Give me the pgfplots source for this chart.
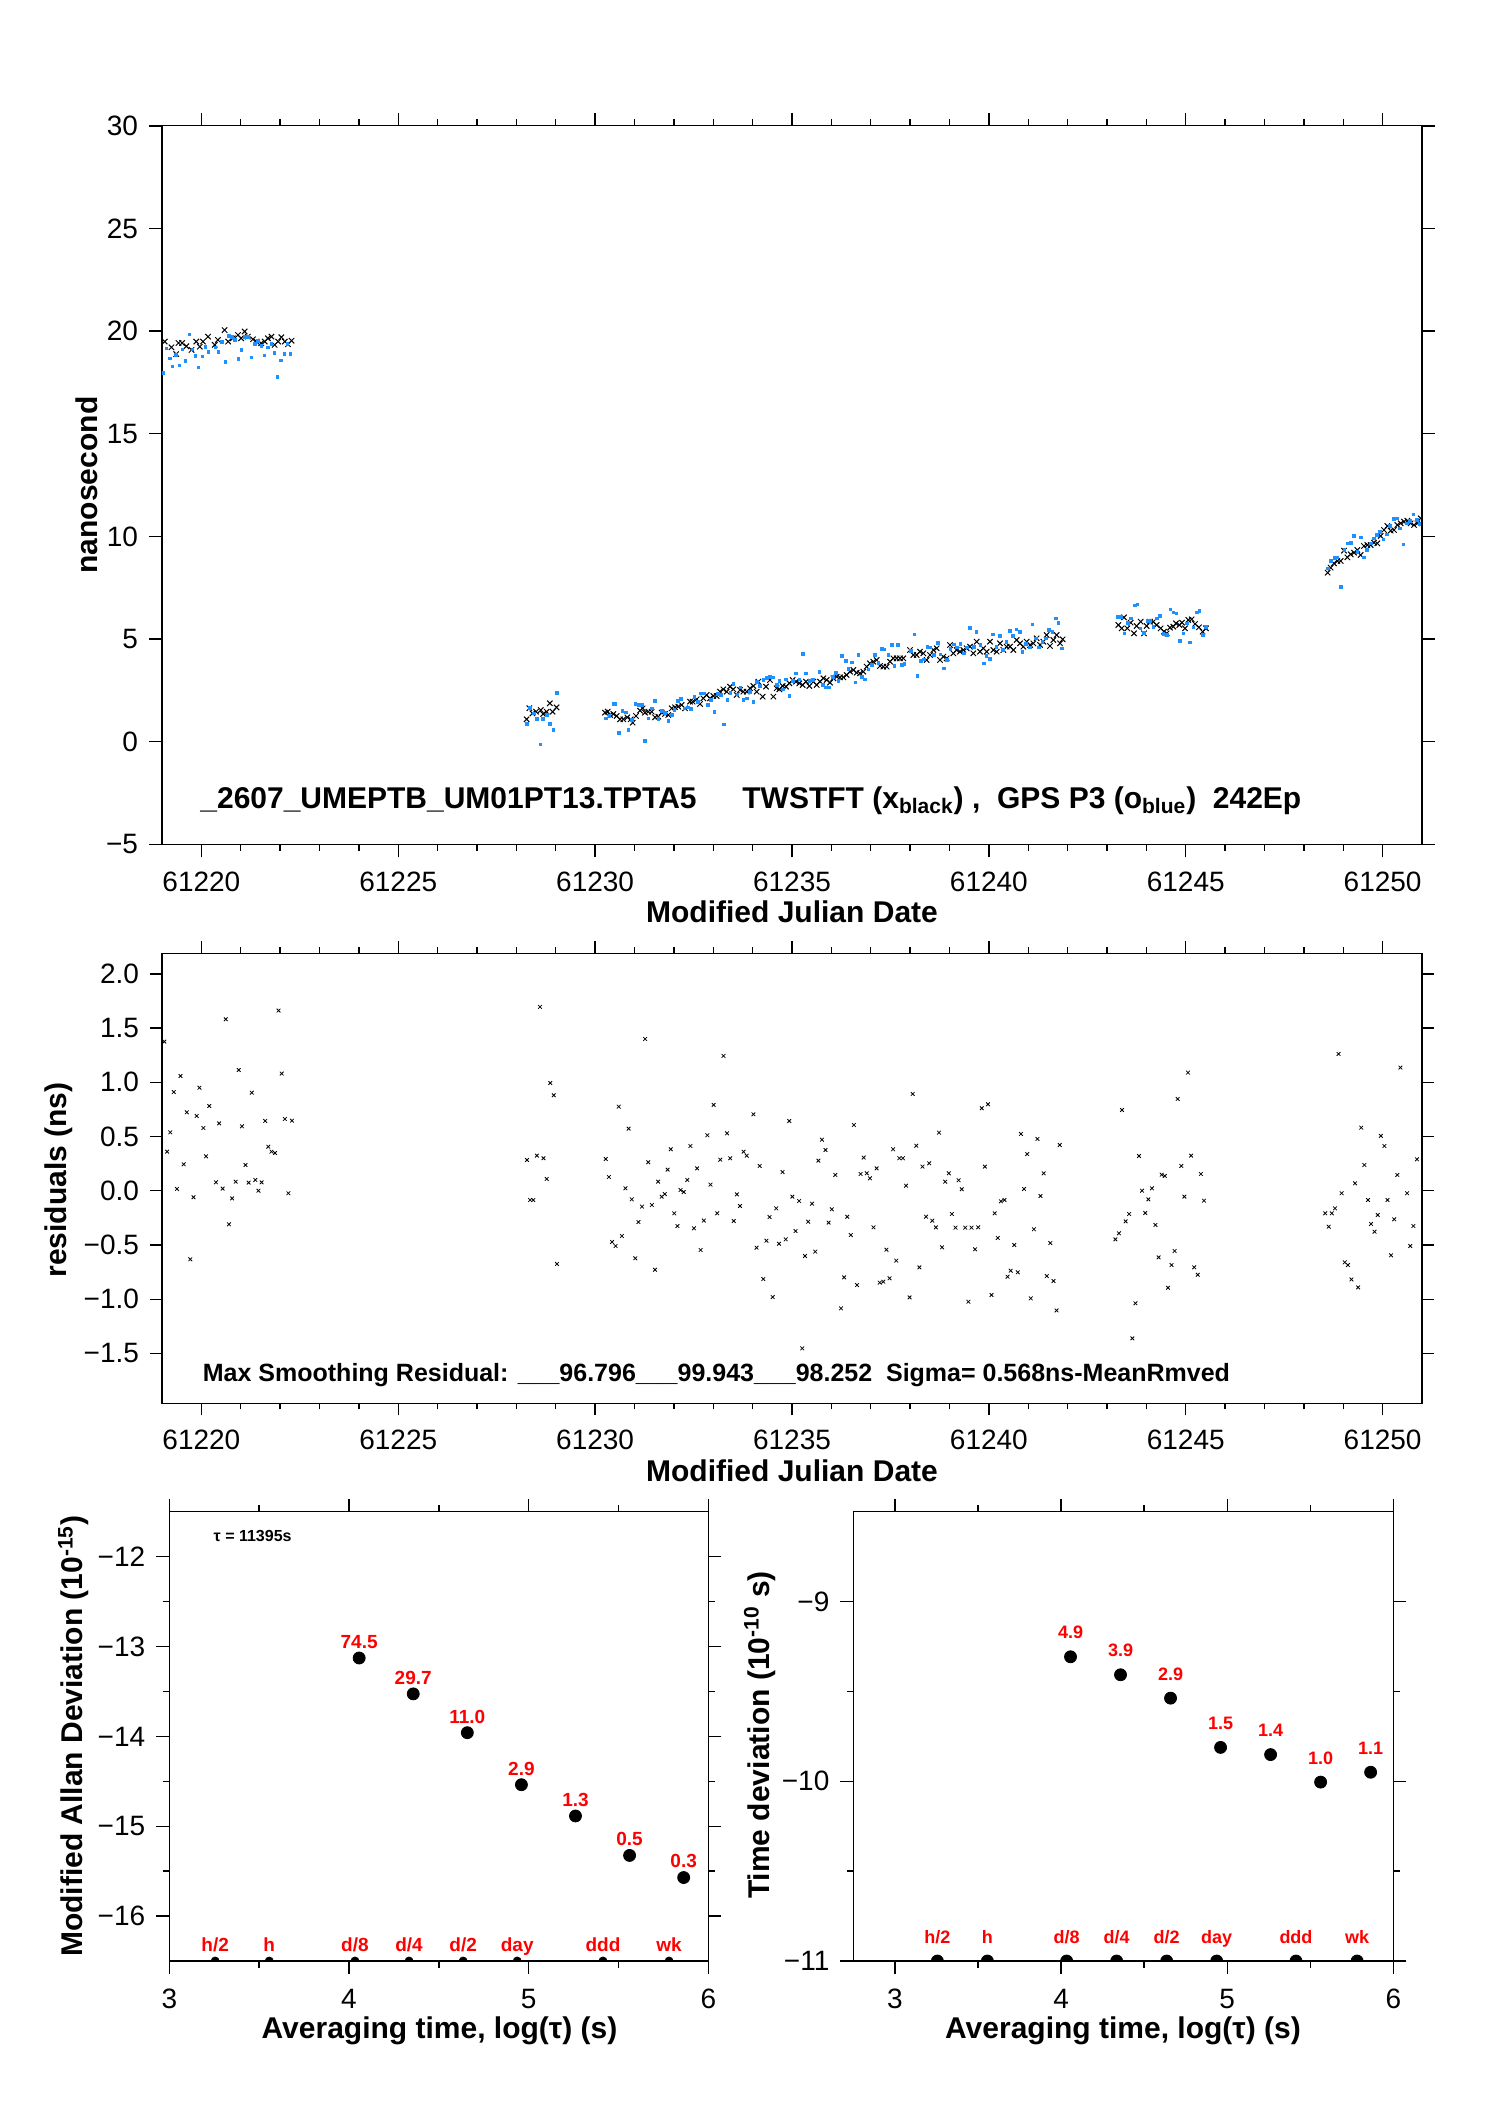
\documentclass[border=0pt]{standalone}
\usepackage{fontspec}
\setmainfont{Liberation Sans}
\usepackage{pgfplots}
\pgfplotsset{compat=1.18}
\definecolor{gpsblue}{RGB}{30,144,255}
\definecolor{lblred}{RGB}{255,0,0}
\pgfplotsset{
  myaxis/.style={
    scale only axis, anchor=north west,
    axis line style={line width=0.6pt},
    tick align=outside,
    every tick/.style={line width=0.7pt, black},
    major tick length=6.5pt, minor tick length=3.3pt,
    tick label style={font=\fontsize{14}{16}\selectfont},
    xticklabel style={yshift=-4pt},
    yticklabel style={xshift=-2pt},
    scaled x ticks=false, scaled y ticks=false,
    /pgf/number format/assume math mode=true,
    clip marker paths=true,
  }
}
\begin{document}
\begin{tikzpicture}
\useasboundingbox (0pt,0pt) rectangle (744pt,-1052.5pt);

% ---------------- top panel ----------------
\begin{axis}[myaxis, at={(81pt,-62.9pt)}, width=630pt, height=359.25pt,
  xmin=61219, xmax=61251, ymin=-5, ymax=30,
  xtick={61220,61225,61230,61235,61240,61245,61250},
  xticklabels={61220,61225,61230,61235,61240,61245,61250},
  minor x tick num=4,
  ytick={-5,0,5,10,15,20,25,30},
  yticklabels={−5,0,5,10,15,20,25,30}]
\addplot[only marks, mark=x, mark size=1.9pt, mark options={line width=0.5pt}, black]
 table[row sep=\\]{x y\\
61219.07 19.49\\ 61219.24 19.21\\ 61219.36 18.88\\ 61219.42 19.42\\ 61219.51 19.42\\
61219.62 19.26\\ 61219.75 19.08\\ 61219.87 19.49\\ 61219.96 19.24\\ 61220.04 19.49\\
61220.17 19.73\\ 61220.34 19.33\\ 61220.42 19.57\\ 61220.59 20.05\\ 61220.68 19.49\\
61220.80 19.65\\ 61220.93 19.81\\ 61221.01 19.65\\ 61221.10 19.98\\ 61221.18 19.73\\
61221.31 19.60\\ 61221.40 19.49\\ 61221.52 19.41\\ 61221.61 19.49\\ 61221.69 19.65\\
61221.78 19.73\\ 61221.86 19.33\\ 61221.95 19.49\\ 61222.03 19.70\\ 61222.12 19.49\\
61222.20 19.36\\ 61222.29 19.53\\
61228.26 1.09\\ 61228.33 1.63\\ 61228.41 1.38\\ 61228.50 1.46\\ 61228.62 1.54\\
61228.68 1.35\\ 61228.77 1.46\\ 61228.85 1.87\\ 61228.92 1.46\\ 61229.02 1.67\\
61230.251 1.414\\ 61230.319 1.463\\ 61230.378 1.301\\ 61230.462 1.349\\ 61230.547 1.252\\
61230.632 1.090\\ 61230.716 1.090\\ 61230.818 1.187\\ 61230.903 1.090\\ 61230.953 0.927\\
61231.038 1.252\\ 61231.140 1.512\\ 61231.207 1.625\\ 61231.267 1.414\\ 61231.351 1.463\\
61231.436 1.463\\ 61231.521 1.187\\ 61231.605 1.219\\ 61231.690 1.414\\ 61231.775 1.349\\
61231.859 1.301\\ 61231.944 1.625\\ 61232.029 1.674\\ 61232.113 1.707\\ 61232.198 1.788\\
61232.283 1.625\\ 61232.410 1.950\\ 61232.477 1.950\\ 61232.579 2.064\\ 61232.664 1.836\\
61232.748 2.112\\ 61232.833 2.275\\ 61232.918 2.112\\ 61233.002 2.226\\ 61233.087 2.226\\
61233.172 2.437\\ 61233.256 2.551\\ 61233.341 2.437\\ 61233.426 2.681\\ 61233.510 2.551\\
61233.595 2.275\\ 61233.680 2.518\\ 61233.764 2.437\\ 61233.849 2.437\\ 61233.934 2.600\\
61234.018 2.713\\ 61234.103 2.437\\ 61234.145 2.924\\ 61234.255 2.194\\ 61234.340 2.681\\
61234.441 3.005\\ 61234.526 2.194\\ 61234.611 2.600\\ 61234.679 2.551\\ 61234.763 2.713\\
61234.848 2.681\\ 61234.933 2.843\\ 61235.017 3.005\\ 61235.102 2.924\\ 61235.187 2.843\\
61235.271 2.762\\ 61235.356 2.924\\ 61235.440 2.713\\ 61235.542 2.924\\ 61235.627 2.762\\
61235.711 2.924\\ 61235.796 3.087\\ 61235.881 3.005\\ 61235.965 2.876\\ 61236.050 3.087\\
61236.135 3.168\\ 61236.219 3.135\\
61236.304 3.135\\ 61236.388 3.249\\ 61236.473 3.411\\ 61236.558 3.492\\ 61236.642 3.362\\
61236.727 3.330\\ 61236.812 3.411\\ 61236.896 3.654\\ 61236.981 3.817\\ 61237.066 3.898\\
61237.150 3.979\\ 61237.235 3.687\\ 61237.320 3.654\\ 61237.404 3.654\\ 61237.489 3.898\\
61237.574 4.060\\ 61237.658 4.060\\ 61237.743 4.060\\ 61237.828 4.060\\ 61237.997 4.466\\
61238.081 4.223\\ 61238.166 4.223\\ 61238.251 4.385\\ 61238.335 4.304\\ 61238.420 3.979\\
61238.505 4.223\\ 61238.589 4.466\\ 61238.674 4.547\\ 61238.759 3.979\\ 61238.843 4.142\\
61238.928 4.060\\ 61239.013 4.710\\ 61239.097 4.304\\ 61239.182 4.466\\ 61239.267 4.385\\
61239.351 4.466\\ 61239.436 4.547\\ 61239.521 4.629\\ 61239.605 4.304\\ 61239.690 4.872\\
61239.775 4.385\\ 61239.859 4.547\\ 61239.944 4.385\\ 61240.029 4.872\\ 61240.113 4.466\\
61240.198 4.385\\ 61240.283 4.791\\ 61240.367 4.466\\ 61240.452 4.629\\ 61240.537 4.629\\
61240.621 4.466\\ 61240.706 4.953\\ 61240.791 4.791\\ 61240.875 4.629\\ 61240.960 4.872\\
61241.045 4.710\\ 61241.129 4.791\\ 61241.214 5.035\\ 61241.299 4.710\\ 61241.383 4.872\\
61241.468 5.197\\ 61241.553 4.661\\ 61241.637 4.953\\ 61241.722 5.197\\ 61241.807 4.791\\
61241.874 4.986\\
61243.288 5.684\\ 61243.372 5.522\\ 61243.432 6.058\\ 61243.516 5.522\\ 61243.601 5.798\\
61243.686 5.278\\ 61243.753 5.635\\ 61243.855 5.847\\ 61243.940 5.278\\ 61244.007 5.635\\
61244.092 5.847\\ 61244.177 5.847\\ 61244.261 5.684\\ 61244.363 5.522\\ 61244.447 5.359\\
61244.515 5.278\\ 61244.600 5.554\\ 61244.684 5.603\\ 61244.752 5.765\\ 61244.837 5.684\\
61244.905 5.798\\ 61244.981 5.522\\ 61245.066 5.928\\ 61245.150 5.960\\ 61245.235 5.733\\
61245.336 5.571\\ 61245.430 5.359\\ 61245.514 5.522\\
61248.604 8.233\\ 61248.680 8.477\\ 61248.765 8.688\\ 61248.850 8.802\\ 61248.935 8.802\\
61249.019 9.305\\ 61249.104 8.980\\ 61249.188 9.126\\ 61249.273 9.208\\ 61249.358 9.337\\
61249.442 9.094\\ 61249.527 9.532\\ 61249.612 9.581\\ 61249.696 9.581\\ 61249.781 9.695\\
61249.866 9.662\\ 61249.950 10.019\\ 61250.035 10.312\\ 61250.120 10.507\\ 61250.204 10.279\\
61250.289 10.312\\ 61250.374 10.555\\ 61250.458 10.636\\ 61250.543 10.718\\ 61250.628 10.766\\
61250.712 10.636\\ 61250.797 10.555\\ 61250.882 10.636\\ 61250.966 10.880\\
};
\addplot[only marks, mark=square*, mark size=0.7pt, gpsblue]
 table[row sep=\\]{x y\\
61219.025 17.98\\ 61219.110 19.16\\ 61219.194 18.67\\ 61219.262 18.28\\ 61219.347 18.84\\
61219.440 18.33\\ 61219.516 19.11\\ 61219.592 18.54\\ 61219.694 19.84\\ 61219.770 19.11\\
61219.846 18.79\\ 61219.922 18.23\\ 61220.024 18.77\\ 61220.100 19.24\\ 61220.176 18.97\\
61220.354 19.21\\ 61220.430 18.98\\ 61220.515 19.49\\ 61220.608 18.48\\ 61220.693 19.76\\
61220.777 19.70\\ 61220.854 19.57\\ 61220.938 18.64\\ 61221.015 19.08\\ 61221.099 19.73\\
61221.192 19.70\\ 61221.268 18.72\\ 61221.353 19.36\\ 61221.438 19.52\\ 61221.522 19.27\\
61221.599 18.82\\ 61221.683 19.21\\ 61221.776 19.36\\ 61221.853 18.92\\ 61221.929 17.75\\
61222.022 18.57\\ 61222.107 18.87\\ 61222.183 19.36\\ 61222.259 18.87\\
61228.26 0.85\\ 61228.35 1.66\\ 61228.45 1.38\\ 61228.53 1.09\\ 61228.61 -0.13\\
61228.68 1.09\\ 61228.77 1.30\\ 61228.85 0.85\\ 61228.94 0.57\\ 61229.02 2.36\\
61230.268 1.138\\ 61230.361 1.252\\ 61230.462 1.836\\ 61230.505 1.836\\ 61230.606 0.408\\
61230.691 1.495\\ 61230.776 1.430\\ 61230.843 0.570\\ 61230.928 1.057\\ 61231.021 1.836\\
61231.097 1.788\\ 61231.182 1.788\\ 61231.267 0.050\\ 61231.351 1.138\\ 61231.436 1.625\\
61231.521 1.983\\ 61231.605 1.090\\ 61231.690 1.495\\ 61231.775 1.382\\ 61231.859 1.008\\
61231.944 1.301\\ 61232.012 1.544\\ 61232.096 1.999\\ 61232.181 2.064\\ 61232.266 1.625\\
61232.350 1.674\\ 61232.435 1.593\\ 61232.520 2.194\\ 61232.604 1.950\\ 61232.689 2.356\\
61232.774 2.356\\ 61232.858 1.788\\ 61232.943 2.031\\ 61233.028 1.463\\ 61233.112 2.323\\
61233.197 2.275\\ 61233.265 0.846\\ 61233.358 2.031\\ 61233.434 2.388\\ 61233.510 2.811\\
61233.612 2.307\\ 61233.688 2.648\\ 61233.764 2.031\\ 61233.849 2.112\\ 61233.934 2.437\\
61234.018 1.918\\ 61234.103 2.924\\ 61234.188 2.713\\ 61234.272 3.005\\ 61234.357 3.119\\
61234.441 3.168\\ 61234.526 3.135\\ 61234.611 2.762\\ 61234.679 2.973\\ 61234.763 2.551\\
61234.848 3.038\\ 61234.933 2.242\\ 61235.017 2.973\\ 61235.102 3.330\\ 61235.187 3.038\\
61235.271 4.272\\ 61235.356 3.330\\ 61235.440 2.973\\ 61235.525 3.005\\ 61235.694 3.411\\
61235.779 2.762\\ 61235.864 2.648\\ 61235.948 2.648\\ 61236.033 3.168\\ 61236.109 3.363\\
61236.177 2.957\\
61236.261 4.174\\ 61236.363 3.930\\ 61236.431 3.541\\ 61236.515 3.866\\ 61236.608 2.891\\
61236.685 4.223\\ 61236.769 3.167\\ 61236.854 3.038\\ 61236.939 3.524\\ 61237.023 3.736\\
61237.108 4.223\\ 61237.193 3.849\\ 61237.277 4.515\\ 61237.345 4.499\\ 61237.447 4.223\\
61237.531 4.710\\ 61237.599 3.687\\ 61237.684 4.710\\ 61237.785 3.736\\ 61237.853 3.784\\
61238.022 4.418\\ 61238.107 5.229\\ 61238.183 3.200\\ 61238.268 3.947\\ 61238.352 4.012\\
61238.437 4.629\\ 61238.513 4.596\\ 61238.598 4.223\\ 61238.700 4.824\\ 61238.767 4.255\\
61238.852 3.573\\ 61238.937 3.979\\ 61239.021 4.515\\ 61239.106 4.742\\ 61239.191 4.596\\
61239.275 4.759\\ 61239.360 4.304\\ 61239.445 4.596\\ 61239.512 5.554\\ 61239.614 4.629\\
61239.682 5.359\\ 61239.783 4.710\\ 61239.868 3.817\\ 61239.936 4.174\\ 61240.020 4.028\\
61240.105 5.229\\ 61240.190 4.629\\ 61240.274 5.165\\ 61240.359 4.466\\ 61240.444 4.872\\
61240.528 5.392\\ 61240.613 5.148\\ 61240.698 5.473\\ 61240.782 5.359\\ 61240.850 4.385\\
61240.935 4.759\\ 61241.036 4.596\\ 61241.104 5.717\\ 61241.188 5.035\\ 61241.273 4.596\\
61241.358 4.872\\ 61241.443 5.035\\ 61241.527 5.441\\ 61241.612 5.359\\ 61241.697 6.009\\
61241.764 5.798\\ 61241.849 4.548\\
61243.262 6.090\\ 61243.347 6.090\\ 61243.440 5.278\\ 61243.525 5.798\\ 61243.601 6.009\\
61243.703 6.642\\ 61243.770 6.691\\ 61243.846 5.522\\ 61243.931 5.311\\ 61244.024 5.895\\
61244.092 5.895\\ 61244.177 5.603\\ 61244.261 6.009\\ 61244.346 6.123\\ 61244.431 5.246\\
61244.515 5.197\\ 61244.608 6.447\\ 61244.685 6.301\\ 61244.761 6.252\\ 61244.854 4.921\\
61244.939 5.278\\ 61245.023 5.765\\ 61245.108 4.840\\ 61245.193 5.571\\ 61245.277 6.301\\
61245.345 6.366\\ 61245.430 5.197\\ 61245.514 5.603\\
61248.604 8.445\\ 61248.689 8.802\\ 61248.782 8.964\\ 61248.850 8.980\\ 61248.935 7.551\\
61249.028 9.337\\ 61249.104 9.662\\ 61249.188 9.695\\ 61249.273 10.019\\ 61249.358 9.256\\
61249.442 9.954\\ 61249.519 8.980\\ 61249.595 9.337\\ 61249.696 9.662\\ 61249.781 9.906\\
61249.849 10.068\\ 61249.933 10.231\\ 61250.018 9.857\\ 61250.103 10.101\\ 61250.188 10.523\\
61250.281 10.848\\ 61250.357 10.880\\ 61250.442 10.393\\ 61250.526 9.614\\ 61250.611 10.636\\
61250.695 10.766\\ 61250.780 11.075\\ 61250.865 10.799\\ 61250.933 10.604\\
};
\end{axis}
\node[anchor=base west, inner sep=0pt, font=\bfseries\fontsize{15}{18}\selectfont] at (100pt,-404pt) {\_2607\_UMEPTB\_UM01PT13.TPTA5};
\node[anchor=base west, inner sep=0pt, font=\bfseries\fontsize{15}{18}\selectfont] at (371pt,-404pt) {TWSTFT (x\textsubscript{black}) ,\ \ GPS P3 (o\textsubscript{blue})\ \ 242Ep};
\node[anchor=base, inner sep=0pt, font=\bfseries\fontsize{15}{18}\selectfont] at (396pt,-461.35pt) {Modified Julian Date};
\node[anchor=base, rotate=90, inner sep=0pt, font=\bfseries\fontsize{15}{18}\selectfont] at (48.5pt,-242.5pt) {nanosecond};

% ---------------- middle panel ----------------
\begin{axis}[myaxis, at={(81pt,-476.65pt)}, width=630pt, height=225pt,
  xmin=61219, xmax=61251, ymin=-1.96, ymax=2.19,
  xtick={61220,61225,61230,61235,61240,61245,61250},
  xticklabels={61220,61225,61230,61235,61240,61245,61250},
  minor x tick num=4,
  major tick length=6pt, minor tick length=3pt,
  ytick={-1.5,-1,-0.5,0,0.5,1,1.5,2},
  yticklabels={−1.5,−1.0,−0.5,0.0,0.5,1.0,1.5,2.0}]
\addplot[only marks, mark=x, mark size=1.3pt, mark options={line width=0.4pt}, black]
 table[row sep=\\]{x y\\
61219.06 1.376\\ 61219.13 0.361\\ 61219.21 0.539\\ 61219.30 0.911\\ 61219.38 0.017\\
61219.47 1.059\\ 61219.55 0.244\\ 61219.63 0.724\\ 61219.72 -0.632\\ 61219.80 -0.060\\
61219.88 0.690\\ 61219.95 0.951\\ 61220.05 0.579\\ 61220.12 0.318\\ 61220.20 0.782\\
61220.37 0.078\\ 61220.45 0.622\\ 61220.54 0.020\\ 61220.62 1.582\\ 61220.70 -0.309\\
61220.78 -0.070\\ 61220.87 0.084\\ 61220.95 1.114\\ 61221.03 0.595\\ 61221.12 0.238\\
61221.20 0.075\\ 61221.28 0.905\\ 61221.37 0.100\\ 61221.45 0.001\\ 61221.53 0.078\\
61221.62 0.644\\ 61221.70 0.407\\ 61221.78 0.361\\ 61221.87 0.349\\ 61221.96 1.662\\
61222.04 1.081\\ 61222.12 0.662\\ 61222.21 -0.023\\ 61222.30 0.647\\
61228.27 0.284\\ 61228.35 -0.085\\ 61228.43 -0.085\\ 61228.52 0.324\\ 61228.60 1.696\\
61228.69 0.300\\ 61228.77 0.109\\ 61228.86 0.994\\ 61228.95 0.881\\ 61229.03 -0.675\\
61230.27 0.293\\ 61230.35 0.127\\ 61230.43 -0.472\\ 61230.52 -0.509\\ 61230.60 0.776\\
61230.68 -0.417\\ 61230.77 0.023\\ 61230.85 0.573\\ 61230.93 -0.079\\ 61231.02 -0.623\\
61231.10 -0.288\\ 61231.19 -0.146\\ 61231.27 1.400\\ 61231.35 0.263\\ 61231.44 -0.131\\
61231.52 -0.728\\ 61231.60 0.084\\ 61231.69 -0.054\\ 61231.77 -0.030\\ 61231.84 0.195\\
61231.92 0.383\\ 61232.01 -0.208\\ 61232.09 -0.325\\ 61232.17 0.007\\ 61232.25 -0.011\\
61232.34 0.100\\ 61232.42 0.413\\ 61232.51 -0.346\\ 61232.59 0.207\\ 61232.68 -0.546\\
61232.76 -0.275\\ 61232.85 0.512\\ 61232.93 0.057\\ 61233.01 0.792\\ 61233.10 -0.208\\
61233.18 0.287\\ 61233.26 1.244\\ 61233.35 0.530\\ 61233.43 0.300\\ 61233.52 -0.279\\
61233.60 -0.033\\ 61233.68 -0.140\\ 61233.77 0.361\\ 61233.85 0.324\\ 61234.02 0.705\\
61234.10 -0.525\\ 61234.18 0.229\\ 61234.27 -0.814\\ 61234.35 -0.460\\ 61234.43 -0.242\\
61234.51 -0.980\\ 61234.60 -0.162\\ 61234.67 -0.488\\ 61234.76 0.173\\ 61234.84 -0.448\\
61234.93 0.644\\ 61235.01 -0.054\\ 61235.09 -0.371\\ 61235.18 -0.094\\ 61235.26 -1.453\\
61235.33 -0.601\\ 61235.41 -0.285\\ 61235.51 -0.119\\ 61235.59 -0.561\\ 61235.67 0.278\\
61235.76 0.471\\ 61235.85 0.376\\ 61235.93 -0.294\\ 61236.01 -0.171\\ 61236.10 0.146\\
61236.244 -1.084\\ 61236.324 -0.798\\ 61236.403 -0.239\\ 61236.493 -0.408\\ 61236.572 0.607\\
61236.652 -0.869\\ 61236.742 0.155\\ 61236.821 0.306\\ 61236.900 0.161\\ 61236.980 0.115\\
61237.070 -0.337\\ 61237.149 0.207\\ 61237.229 -0.847\\ 61237.319 -0.838\\ 61237.398 -0.543\\
61237.477 -0.807\\ 61237.568 0.383\\ 61237.647 -0.644\\ 61237.726 0.300\\ 61237.817 0.300\\
61237.896 0.047\\ 61237.986 -0.983\\ 61238.066 0.893\\ 61238.156 0.416\\ 61238.235 -0.706\\
61238.314 0.223\\ 61238.405 -0.239\\ 61238.484 0.253\\ 61238.563 -0.276\\ 61238.654 -0.337\\
61238.733 0.536\\ 61238.812 -0.521\\ 61238.891 0.084\\ 61238.982 0.161\\ 61239.061 -0.214\\
61239.152 -0.340\\ 61239.231 0.097\\ 61239.310 0.014\\ 61239.400 -0.340\\ 61239.480 -1.023\\
61239.559 -0.340\\ 61239.649 -0.540\\ 61239.729 -0.337\\ 61239.819 0.761\\ 61239.898 0.223\\
61239.977 0.798\\ 61240.068 -0.961\\ 61240.147 -0.208\\ 61240.226 -0.435\\ 61240.305 -0.097\\
61240.396 -0.085\\ 61240.475 -0.792\\ 61240.554 -0.737\\ 61240.645 -0.500\\ 61240.735 -0.752\\
61240.814 0.524\\ 61240.894 0.017\\ 61240.973 0.339\\ 61241.063 -0.992\\ 61241.143 -0.355\\
61241.233 0.478\\ 61241.312 -0.048\\ 61241.391 0.161\\ 61241.471 -0.786\\ 61241.561 -0.482\\
61241.640 -0.832\\ 61241.719 -1.103\\ 61241.799 0.422\\
61243.213 -0.448\\ 61243.303 -0.392\\ 61243.382 0.745\\ 61243.473 -0.282\\ 61243.563 -0.214\\
61243.643 -1.361\\ 61243.722 -1.038\\ 61243.812 0.321\\ 61243.891 0.001\\ 61243.971 -0.205\\
61244.050 -0.079\\ 61244.140 0.023\\ 61244.231 -0.315\\ 61244.310 -0.614\\ 61244.389 0.149\\
61244.468 0.137\\ 61244.548 -0.894\\ 61244.638 -0.685\\ 61244.717 -0.555\\ 61244.796 0.847\\
61244.887 0.229\\ 61244.966 -0.054\\ 61245.057 1.090\\ 61245.136 0.324\\ 61245.215 -0.706\\
61245.305 -0.774\\ 61245.385 0.155\\ 61245.464 -0.091\\
61248.541 -0.208\\ 61248.631 -0.331\\ 61248.710 -0.208\\ 61248.790 -0.162\\ 61248.880 1.262\\
61248.959 -0.023\\ 61249.038 -0.660\\ 61249.118 -0.685\\ 61249.208 -0.817\\ 61249.299 0.069\\
61249.378 -0.891\\ 61249.457 0.582\\ 61249.536 0.238\\ 61249.627 -0.085\\ 61249.706 -0.306\\
61249.796 -0.377\\ 61249.876 -0.223\\ 61249.955 0.506\\ 61250.045 0.413\\ 61250.124 -0.085\\
61250.215 -0.595\\ 61250.294 -0.263\\ 61250.373 0.146\\ 61250.452 1.136\\ 61250.622 -0.023\\
61250.701 -0.509\\ 61250.781 -0.325\\ 61250.872 0.290\\
};
\end{axis}
\node[anchor=base west, inner sep=0pt, font=\bfseries\fontsize{12.5}{15}\selectfont] at (101.25pt,-690.85pt) {Max Smoothing Residual: \_\_\_96.796\_\_\_99.943\_\_\_98.252\ \ Sigma= 0.568ns-MeanRmved};
\node[anchor=base, inner sep=0pt, font=\bfseries\fontsize{15}{18}\selectfont] at (396pt,-740.75pt) {Modified Julian Date};
\node[anchor=base, rotate=90, inner sep=0pt, font=\bfseries\fontsize{15}{18}\selectfont] at (33pt,-590pt) {residuals (ns)};

% ---------------- bottom left: MDEV ----------------
\begin{axis}[myaxis, at={(84.65pt,-755.85pt)}, width=269.5pt, height=224.65pt,
  xmin=3, xmax=6, ymin=-16.5, ymax=-11.5,
  xtick={3,4,5,6}, minor x tick num=1,
  ytick={-16,-15,-14,-13,-12}, yticklabels={−16,−15,−14,−13,−12},
  minor y tick num=1]
\addplot[only marks, mark=*, mark size=3pt, black,
  nodes near coords, point meta=explicit symbolic,
  every node near coord/.append style={anchor=base, yshift=4.8pt, inner sep=0pt,
    font=\bfseries\fontsize{9.5}{11}\selectfont, text=lblred}]
 table[row sep=\\, meta=label]{x y label\\
4.0567 -13.128 74.5\\ 4.3577 -13.527 29.7\\ 4.6588 -13.959 11.0\\ 4.9598 -14.538 2.9\\
5.2608 -14.886 1.3\\ 5.5619 -15.325 0.5\\ 5.8629 -15.571 0.3\\
};
\addplot[only marks, mark=*, mark size=2pt, black,
  nodes near coords, point meta=explicit symbolic,
  every node near coord/.append style={anchor=base, yshift=4.7pt, inner sep=0pt,
    font=\bfseries\fontsize{9.5}{11}\selectfont, text=lblred}]
 table[row sep=\\, meta=label]{x y label\\
3.2553 -16.5 h/2\\ 3.5563 -16.5 h\\ 4.0334 -16.5 d/8\\ 4.3345 -16.5 d/4\\
4.6355 -16.5 d/2\\ 4.9365 -16.5 day\\ 5.4137 -16.5 ddd\\ 5.7816 -16.5 wk\\
};
\end{axis}
\node[anchor=base west, inner sep=0pt, font=\bfseries\fontsize{8}{10}\selectfont] at (106.65pt,-770.85pt) {τ = 11395s};
\node[anchor=base, inner sep=0pt, font=\bfseries\fontsize{15}{18}\selectfont] at (219.75pt,-1019.15pt) {Averaging time, log(τ) (s)};
\node[anchor=base, rotate=90, inner sep=0pt, font=\bfseries\fontsize{15}{18}\selectfont] at (41.5pt,-868pt) {Modified Allan Deviation (10\textsuperscript{-15})};

% ---------------- bottom right: TDEV ----------------
\begin{axis}[myaxis, at={(426.7pt,-755.75pt)}, width=270pt, height=224.75pt,
  xmin=2.75, xmax=6, ymin=-11, ymax=-8.5,
  xtick={3,4,5,6}, minor x tick num=1,
  ytick={-11,-10,-9}, yticklabels={−11,−10,−9},
  minor y tick num=1]
\addplot[only marks, mark=*, mark size=3pt, black,
  nodes near coords, point meta=explicit symbolic,
  every node near coord/.append style={anchor=base, yshift=9pt, inner sep=0pt,
    font=\bfseries\fontsize{9}{11}\selectfont, text=lblred}]
 table[row sep=\\, meta=label]{x y label\\
4.0567 -9.308 4.9\\ 4.3577 -9.408 3.9\\ 4.6588 -9.538 2.9\\ 4.9598 -9.812 1.5\\
5.2608 -9.852 1.4\\ 5.5619 -10.005 1.0\\ 5.8629 -9.950 1.1\\
};
\addplot[only marks, mark=*, mark size=3pt, black,
  nodes near coords, point meta=explicit symbolic,
  every node near coord/.append style={anchor=base, yshift=9pt, inner sep=0pt,
    font=\bfseries\fontsize{9}{11}\selectfont, text=lblred}]
 table[row sep=\\, meta=label]{x y label\\
3.2553 -11 h/2\\ 3.5563 -11 h\\ 4.0334 -11 d/8\\ 4.3345 -11 d/4\\
4.6355 -11 d/2\\ 4.9365 -11 day\\ 5.4137 -11 ddd\\ 5.7816 -11 wk\\
};
\end{axis}
\node[anchor=base, inner sep=0pt, font=\bfseries\fontsize{15}{18}\selectfont] at (561.5pt,-1019.15pt) {Averaging time, log(τ) (s)};
\node[anchor=base, rotate=90, inner sep=0pt, font=\bfseries\fontsize{15}{18}\selectfont] at (384.5pt,-867.5pt) {Time deviation (10\textsuperscript{-10} s)};
\end{tikzpicture}
\end{document}
